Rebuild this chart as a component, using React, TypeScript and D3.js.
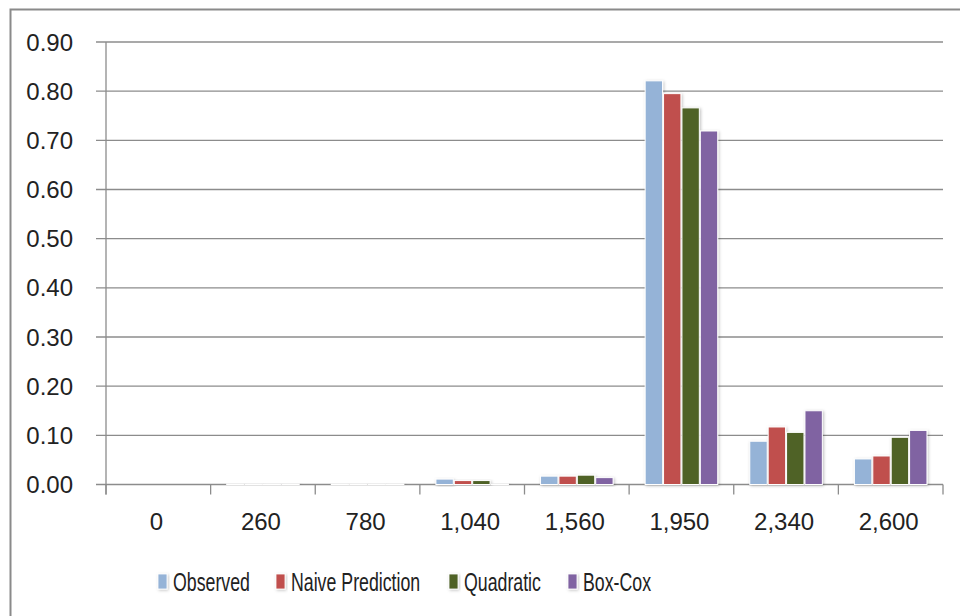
import React from "react";
import * as d3 from "d3";

const categories = ["0", "260", "780", "1,040", "1,560", "1,950", "2,340", "2,600"];
const seriesNames = ["Observed", "Naive Prediction", "Quadratic", "Box-Cox"];
const observed = [0, 0.001, 0.001, 0.011, 0.017, 0.821, 0.088, 0.052];
const naive = [0, 0.001, 0.001, 0.008, 0.017, 0.795, 0.117, 0.058];
const quadratic = [0, 0.001, 0.001, 0.008, 0.019, 0.766, 0.106, 0.096];
const boxCox = [0, 0.001, 0.001, 0.001, 0.014, 0.719, 0.15, 0.11];
const colors = ["#95B3D7", "#C0504D", "#4F6228", "#8064A2"];
const yTicks = [0, 0.1, 0.2, 0.3, 0.4, 0.5, 0.6, 0.7, 0.8, 0.9];

const W = 960;
const H = 616;
const left = 106;
const right = 943;
const top = 42;
const bottom = 484.5;

export default function App() {
  const series = [observed, naive, quadratic, boxCox];
  const x0 = d3.scaleBand<string>().domain(categories).range([left, right]).paddingInner(0.297).paddingOuter(0.1485);
  const x1 = d3.scaleBand<number>().domain(d3.range(series.length)).range([0, x0.bandwidth()]);
  const y = d3.scaleLinear().domain([0, 0.9]).range([bottom, top]);
  const step = x0.step();
  const boundaries = d3.range(categories.length + 1).map((i) => left + i * step);
  const fmt = d3.format(".2f");
  const legendX = [158, 276, 449, 568];
  const font = "'Liberation Sans', Arial, sans-serif";

  return (
    <svg width={W} height={H} style={{ position: "absolute", left: 0, top: 0, background: "#fff" }}>
      <defs>
        <filter id="sh" x="-30%" y="-30%" width="160%" height="160%">
          <feDropShadow dx="1" dy="1" stdDeviation="1.6" floodColor="#000" floodOpacity="0.25" />
        </filter>
      </defs>
      <rect x={0} y={0} width={W} height={H} fill="#fff" />
      <rect x={10.5} y={9.5} width={1000} height={1000} fill="none" stroke="#8a8a8a" strokeWidth={2} />
      {yTicks.map((t) => (
        <g key={t}>
          <line x1={left - 10} x2={right} y1={y(t)} y2={y(t)} stroke="#8c8c8c" strokeWidth={1.3} />
          <text x={73} y={y(t) + 8.5} textAnchor="end" fontFamily={font} fontSize={24} fill="#222">
            {fmt(t)}
          </text>
        </g>
      ))}
      <line x1={left} x2={left} y1={top} y2={bottom + 10} stroke="#8c8c8c" strokeWidth={1.3} />
      {boundaries.map((b, i) => (
        <line key={i} x1={b} x2={b} y1={bottom} y2={bottom + 10} stroke="#8c8c8c" strokeWidth={1.3} />
      ))}
      {categories.map((c, ci) => (
        <g key={c}>
          {series.map((s, si) => {
            const v = s[ci];
            if (v <= 0) return null;
            const bx = (x0(c) as number) + (x1(si) as number);
            return (
              <rect
                key={si}
                x={bx + 0.5}
                y={y(v)}
                width={x1.bandwidth() - 1}
                height={bottom - y(v)}
                fill={colors[si]}
                stroke="#fff"
                strokeWidth={1}
                filter="url(#sh)"
              />
            );
          })}
          <text
            x={(x0(c) as number) + x0.bandwidth() / 2 - 2}
            y={530}
            textAnchor="middle"
            fontFamily={font}
            fontSize={24}
            fill="#222"
          >
            {c}
          </text>
        </g>
      ))}
      {seriesNames.map((n, i) => (
        <g key={n}>
          <rect x={legendX[i]} y={574} width={9} height={15} fill={colors[i]} stroke="#fff" strokeWidth={0.8} filter="url(#sh)" />
          <text
            transform={`translate(${legendX[i] + 15},590.5) scale(0.71,1)`}
            fontFamily={font}
            fontSize={25}
            fill="#222"
          >
            {n}
          </text>
        </g>
      ))}
    </svg>
  );
}
